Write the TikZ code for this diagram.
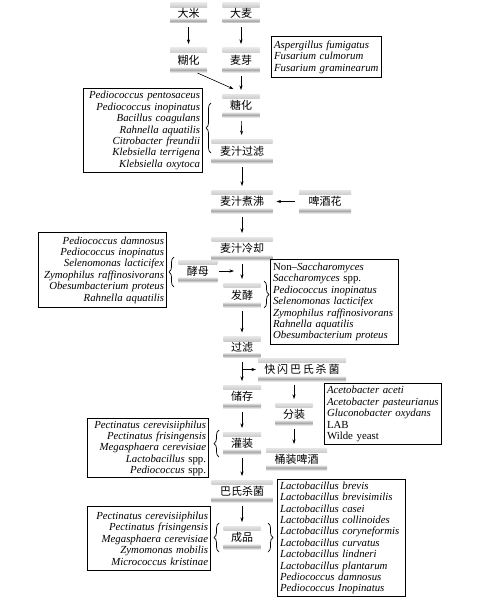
\documentclass[tikz,border=0pt]{standalone}
\usepackage{fontspec}
\setmainfont{Liberation Serif}
\newfontfamily\cjk{Noto Sans CJK SC}
\usetikzlibrary{arrows.meta,decorations.pathreplacing,calc}
\newcommand\nohyph{\hyphenpenalty=10000\relax\exhyphenpenalty=10000\relax}
\begin{document}
\begin{tikzpicture}[x=1pt,y=-1pt,
  proc/.style={minimum height=23pt, inner sep=0pt, outer sep=0pt,
    font=\cjk\fontsize{11}{12}\selectfont,
    path picture={
      \shade[top color=gray!20, bottom color=gray!20, middle color=gray!70]
        (path picture bounding box.north west) rectangle ([yshift=-4.5pt]path picture bounding box.north east);
      \shade[top color=gray!20, bottom color=gray!20, middle color=gray!70]
        ([yshift=4.5pt]path picture bounding box.south west) rectangle (path picture bounding box.south east);
    }},
  arr/.style={-{Stealth[length=4.5pt,width=3pt]}, line width=0.6pt, shorten <=4pt, shorten >=4pt},
  listbox/.style={draw, line width=1.1pt, inner xsep=2.5pt, inner ysep=2pt,
    font=\fontsize{10.8}{11.4}\selectfont\itshape, anchor=north west},
  bracestyle/.style={line width=0.7pt, decorate, decoration={brace, amplitude=5pt}}
]
\useasboundingbox[fill=white] (0,0) rectangle (484,602);

% process nodes
\node[proc, minimum width=37pt, minimum height=20pt] (mi) at (188.5,13) {大米};
\node[proc, minimum width=37pt, minimum height=20pt] (dm) at (241,13) {大麦};
\node[proc, minimum width=37pt, minimum height=24pt] (hu) at (188.5,60) {糊化};
\node[proc, minimum width=37pt, minimum height=24pt] (ya) at (241,60) {麦芽};
\node[proc, minimum width=37pt] (tang) at (241,105.5) {糖化};
\node[proc, minimum width=61pt, minimum height=24pt] (lv) at (242,151) {麦汁过滤};
\node[proc, minimum width=61pt] (zf) at (242,201.5) {麦汁煮沸};
\node[proc, minimum width=52pt] (hops) at (325,201.5) {啤酒花};
\node[proc, minimum width=61pt] (lq) at (242,248.5) {麦汁冷却};
\node[proc, minimum width=39pt, minimum height=22pt] (jm) at (197.8,271) {酵母};
\node[proc, minimum width=37pt, minimum height=24pt] (fj) at (242,295) {发酵};
\node[proc, minimum width=37pt, minimum height=21pt] (gl) at (242,347) {过滤};
\node[proc, minimum width=88pt] (ks) at (302,369.5) {快\,闪\,巴\,氏\,杀\,菌};
\node[proc, minimum width=38pt] (cc) at (242,396.5) {储存};
\node[proc, minimum width=37pt, minimum height=22pt] (fz) at (294,414) {分装};
\node[proc, minimum width=61pt, minimum height=22pt] (tz) at (296.5,459) {桶装啤酒};
\node[proc, minimum width=38pt, minimum height=22pt] (gz) at (242,443) {灌装};
\node[proc, minimum width=61pt, minimum height=22pt] (bs) at (242,491) {巴氏杀菌};
\node[proc, minimum width=37pt] (cp) at (242,537.5) {成品};

% list boxes
\node[listbox, align=left, text width=105pt, minimum height=41pt] (bA) at (271,36)
  {\nohyph Aspergillus fumigatus\\Fusarium culmorum\\Fusarium graminearum};
\node[listbox, align=right, text width=114pt, minimum height=84pt] (bL1) at (83,88)
  {\nohyph Pediococcus pentosaceus\\Pediococcus inopinatus\\Bacillus coagulans\\Rahnella aquatilis\\Citrobacter freundii\\Klebsiella terrigena\\Klebsiella oxytoca};
\node[listbox, align=right, text width=123pt, minimum height=75pt] (bL2) at (38,232)
  {\nohyph Pediococcus damnosus\\Pediococcus inopinatus\\Selenomonas lacticifex\\Zymophilus raffinosivorans\\Obesumbacterium proteus\\Rahnella aquatilis};
\node[listbox, align=left, text width=123pt, minimum height=85pt] (bR2) at (270,259)
  {\nohyph{\upshape Non--}Saccharomyces\\Saccharomyces {\upshape spp.}\\Pediococcus inopinatus\\Selenomonas lacticifex\\Zymophilus raffinosivorans\\Rahnella aquatilis\\Obesumbacterium proteus};
\node[listbox, align=left, text width=112pt, minimum height=61pt] (bR3) at (324,383)
  {\nohyph Acetobacter aceti\\Acetobacter pasteurianus\\Gluconobacter oxydans\\{\upshape LAB}\\{\upshape Wilde yeast}};
\node[listbox, align=right, text width=116pt, minimum height=59pt] (bL3) at (87,418)
  {\nohyph Pectinatus cerevisiiphilus\\Pectinatus frisingensis\\Megasphaera cerevisiae\\Lactobacillus {\upshape spp.}\\Pediococcus {\upshape spp.}};
\node[listbox, align=right, text width=118pt, minimum height=64pt] (bL4) at (87,506)
  {\nohyph Pectinatus cerevisiiphilus\\Pectinatus frisingensis\\Megasphaera cerevisiae\\Zymomonas mobilis\\Micrococcus kristinae};
\node[listbox, align=left, text width=123pt, minimum height=117pt] (bR4) at (277,479)
  {\nohyph Lactobacillus brevis\\Lactobacillus brevisimilis\\Lactobacillus casei\\Lactobacillus collinoides\\Lactobacillus coryneformis\\Lactobacillus curvatus\\Lactobacillus lindneri\\Lactobacillus plantarum\\Pediococcus damnosus\\Pediococcus Inopinatus};

% arrows
\draw[arr] (mi) -- (hu);
\draw[arr] (dm) -- (ya);
\draw[arr, shorten <=0pt, shorten >=0pt] ($(hu.south)+(9,1)$) -- ($(tang.north west)+(11,-5)$);
\draw[arr] (ya) -- (tang);
\draw[arr] (tang) -- (lv);
\draw[arr] (lv) -- (zf);
\draw[arr] (hops) -- (zf);
\draw[arr] (zf) -- (lq);
\draw[arr] (lq) -- (fj);
\draw[arr, shorten <=1.5pt, shorten >=8pt] (jm) -- (jm -| fj);
\draw[arr] (fj) -- (gl);
\draw[arr] (gl) -- (cc);
\draw[arr, shorten <=0pt, shorten >=2pt] (gl.south |- ks.west) -- (ks.west);
\draw[arr] (ks.south -| fz) -- (fz.north);
\draw[arr] (fz.south) -- (fz.south |- tz.north);
\draw[arr] (cc) -- (gz);
\draw[arr] (gz) -- (bs);
\draw[arr] (bs) -- (cp);

% braces
\draw[bracestyle] (211,153) -- (211,103);
\draw[bracestyle] (174,287) -- (174,257);
\draw[bracestyle] (264,281) -- (264,308);
\draw[bracestyle] (219,457) -- (219,430);
\draw[bracestyle] (219,552) -- (219,523);
\draw[bracestyle] (268,523) -- (268,552);
\end{tikzpicture}
\end{document}
